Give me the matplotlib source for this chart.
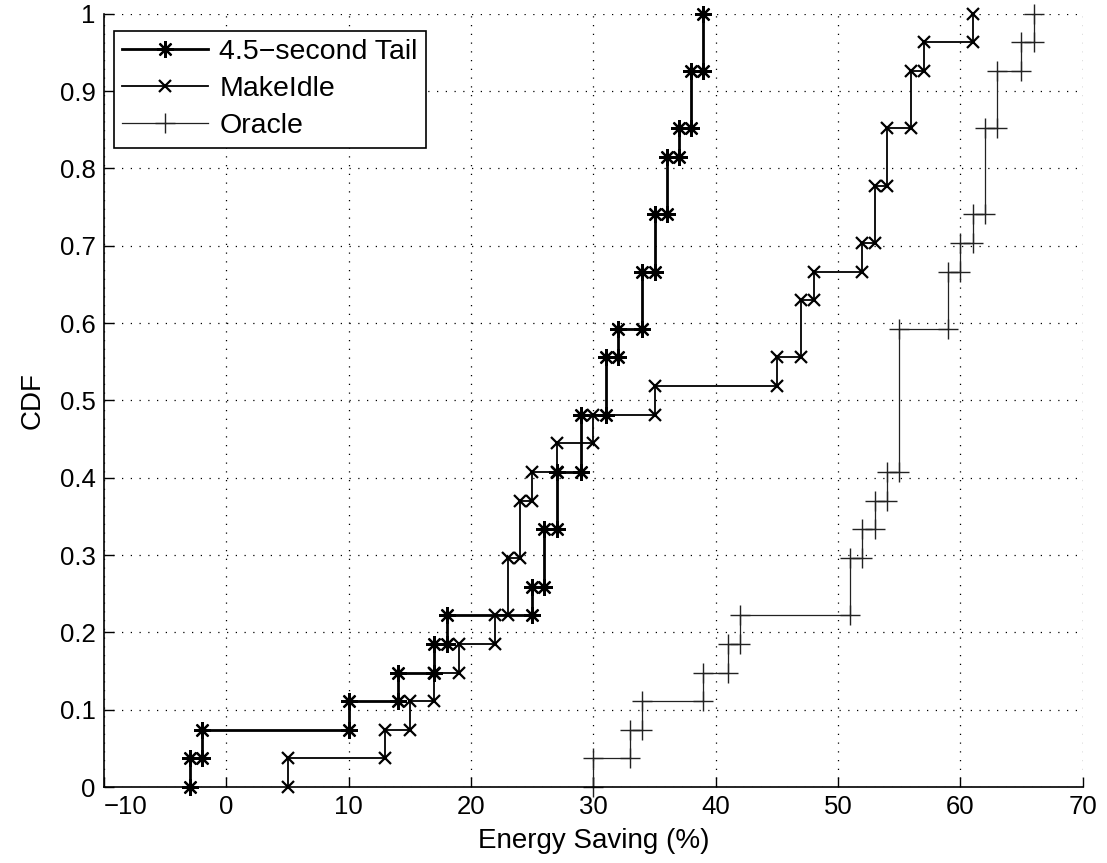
import numpy as np
import matplotlib
matplotlib.use("Agg")
import matplotlib.pyplot as plt

# --------------------------------------------------
# Data: energy saving (%) per trace, 27 traces each
# --------------------------------------------------
tail_saving = [-3, -2, 10, 14, 17, 18, 25, 26, 26, 27, 27, 29, 29, 31, 31,
               32, 34, 34, 35, 35, 36, 36, 37, 38, 38, 39, 39]
makeidle_saving = [5, 13, 15, 17, 19, 22, 23, 23, 24, 24, 25, 27, 30, 35, 45,
                   47, 47, 48, 52, 53, 53, 54, 54, 56, 56, 57, 61]
oracle_saving = [30, 33, 34, 39, 41, 42, 51, 51, 52, 53, 54, 55, 55, 55, 55,
                 55, 59, 59, 60, 61, 62, 62, 62, 63, 63, 65, 66]

series_names = ["4.5\u2212second Tail", "MakeIdle", "Oracle"]

x_ticks = list(range(-10, 71, 10))
y_ticks = [0, 0.1, 0.2, 0.3, 0.4, 0.5, 0.6, 0.7, 0.8, 0.9, 1]
y_tick_labels = ["0", "0.1", "0.2", "0.3", "0.4", "0.5", "0.6", "0.7",
                 "0.8", "0.9", "1"]


def stair_points(samples):
    # empirical CDF drawn as stairs, with a vertex at both corners of each step
    vals, counts = np.unique(samples, return_counts=True)
    cdf = np.cumsum(counts) / len(samples)
    xs, ys = [], []
    prev = 0.0
    for v, c in zip(vals, cdf):
        xs += [v, v]
        ys += [prev, c]
        prev = c
    return xs, ys


plt.rcParams["font.family"] = ["Liberation Sans", "DejaVu Sans"]
plt.rcParams["font.size"] = 18.5

fig = plt.figure(figsize=(11.07, 8.63), dpi=100)
ax = fig.add_axes([0.094, 0.088, 0.884, 0.896])

# MATLAB-like markers: 8-arm asterisk, x, plus
styles = [
    dict(marker=(8, 2, 0), lw=2.0, ms=12, mew=1.6, color="black"),
    dict(marker="x", lw=1.3, ms=9, mew=1.6, color="black"),
    dict(marker="+", lw=0.9, ms=14, mew=1.0, color="#222222"),
]

for samples, name, st in zip([tail_saving, makeidle_saving, oracle_saving],
                             series_names, styles):
    xs, ys = stair_points(samples)
    ax.plot(xs, ys, label=name, clip_on=False, **st)

ax.set_xlim(-10, 70)
ax.set_ylim(0, 1)
ax.set_xticks(x_ticks)
ax.set_xticklabels([str(t).replace("-", "\u2212") for t in x_ticks])
ax.set_yticks(y_ticks)
ax.set_yticklabels(y_tick_labels)

# first x label sits right of its tick so it clears the y "0"
first = ax.get_xticklabels()[0]
first.set_horizontalalignment("left")

ax.grid(True, color="black", linestyle=(0, (1, 6)), linewidth=0.9)
ax.spines["top"].set_visible(False)
ax.spines["right"].set_visible(False)
ax.spines["left"].set_linewidth(1.2)
ax.spines["bottom"].set_linewidth(1.2)
ax.tick_params(direction="in", length=7, width=1.0, pad=6)

ax.set_xlabel("Energy Saving (%)", fontsize=20, labelpad=6)
ax.set_ylabel("CDF", fontsize=20, labelpad=10)

leg = ax.legend(loc="upper left", bbox_to_anchor=(0.01, 0.978),
                fancybox=False, framealpha=1, edgecolor="black",
                fontsize=20.5, handlelength=3.0, handletextpad=0.4,
                borderpad=0.3, labelspacing=0.38, borderaxespad=0)
leg.get_frame().set_linewidth(1.2)

fig.savefig("out.png", dpi=100)
